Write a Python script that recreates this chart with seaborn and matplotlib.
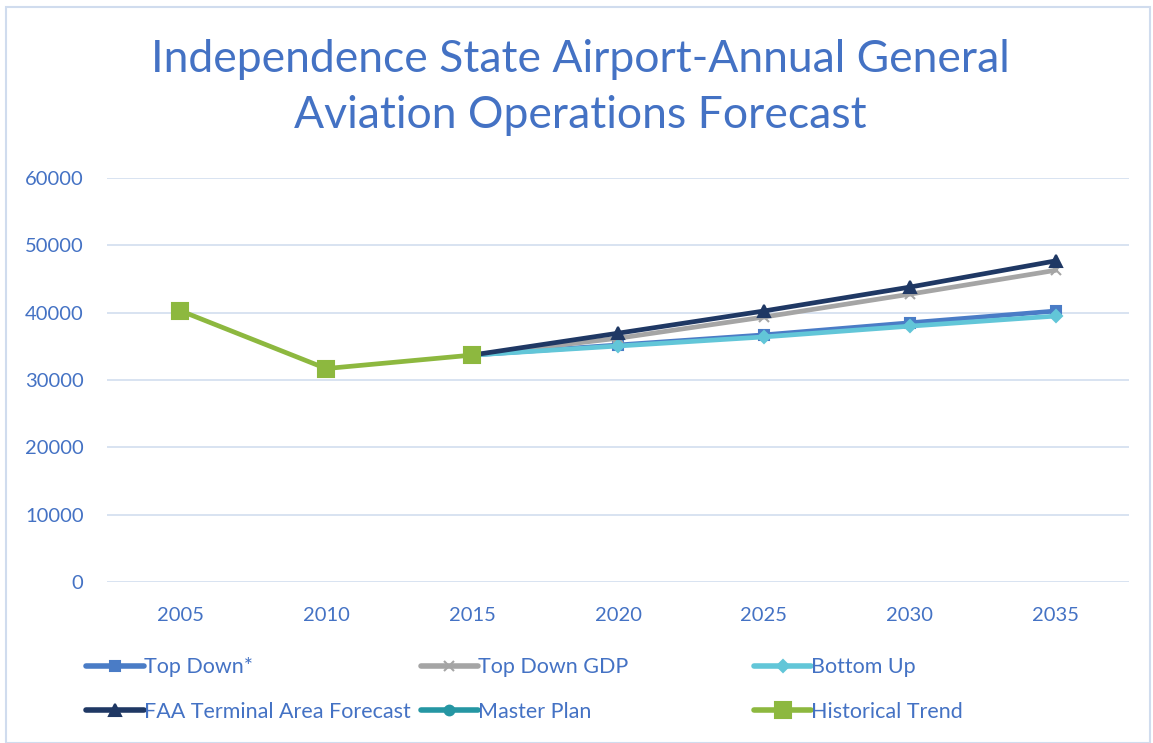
import matplotlib
matplotlib.use("Agg")
import matplotlib.pyplot as plt
import seaborn as sns
from matplotlib.patches import Rectangle

# data
years_hist = ["2005", "2010", "2015"]
historical = [40300, 31700, 33700]

years_fc = ["2015", "2020", "2025", "2030", "2035"]
top_down = [33700, 35200, 36700, 38500, 40250]
top_down_gdp = [33700, 36200, 39350, 42750, 46300]
bottom_up = [33700, 35050, 36400, 38000, 39500]
faa_taf = [33700, 36950, 40250, 43800, 47700]
master_plan_years = ["2015"]
master_plan = [33700]

blue_text = "#4472C4"
grid_col = "#D6E0F0"

sns.set_theme(style="white")
plt.rcParams["font.family"] = ["Lato", "DejaVu Sans"]

fig = plt.figure(figsize=(11.53, 7.43), dpi=100)
ax = fig.add_axes([0.093, 0.2167, 0.886, 0.5437])

series = [
    ("Top Down*", years_fc, top_down, "#4A7CC6", "s", 7),
    ("Top Down GDP", years_fc, top_down_gdp, "#A5A5A5", "x", 7),
    ("Bottom Up", years_fc, bottom_up, "#62C6D8", "D", 6),
    ("FAA Terminal Area Forecast", years_fc, faa_taf, "#1F3864", "^", 8),
    ("Master Plan", master_plan_years, master_plan, "#2596A3", "o", 7),
    ("Historical Trend", years_hist, historical, "#8DB83F", "s", 11),
]

# historical first so the category order on x runs 2005..2035
for name, xs, ys, col, mk, ms in [series[5]] + series[:5]:
    sns.lineplot(x=xs, y=ys, ax=ax, color=col, linewidth=3.4, marker=mk,
                 markersize=ms, markeredgecolor=col, markeredgewidth=1.5,
                 label=name, zorder=3 if name != "Historical Trend" else 4,
                 sort=False)

ax.set_xlim(-0.5, 6.5)
ax.set_ylim(0, 60000)
ax.set_yticks(range(0, 60001, 10000))
ax.grid(axis="y", color=grid_col, linewidth=1.3)
ax.grid(axis="x", visible=False)
for s in ax.spines.values():
    s.set_visible(False)
ax.tick_params(axis="both", colors=blue_text, labelsize=14.5, length=0)
ax.tick_params(axis="y", pad=17)
ax.tick_params(axis="x", pad=18)
ax.set_xlabel("")
ax.set_ylabel("")

hs, ls = ax.get_legend_handles_labels()
lookup = dict(zip(ls, hs))
ax.get_legend().remove()

# Excel-like fixed-width legend columns: one legend per column
columns = [
    (0.075, ["Top Down*", "FAA Terminal Area Forecast"]),
    (0.365, ["Top Down GDP", "Master Plan"]),
    (0.654, ["Bottom Up", "Historical Trend"]),
]
for xpos, names in columns:
    leg = fig.legend([lookup[n] for n in names], names, loc="center left",
                     bbox_to_anchor=(xpos, 0.072), frameon=False,
                     fontsize=15.5, labelcolor=blue_text, handlelength=2.65,
                     handletextpad=0.0, labelspacing=1.12, markerscale=1.0,
                     borderaxespad=0, borderpad=0)
    for ln in leg.get_lines():
        ln.set_linewidth(4)

fig.text(0.503, 0.882,
         "Independence State Airport-Annual General\nAviation Operations Forecast",
         ha="center", va="center", color=blue_text, fontsize=32, linespacing=1.45)

fig.patches.append(Rectangle((0.005, 0.0), 0.992, 0.99, transform=fig.transFigure,
                             fill=False, edgecolor="#D0DCEE", linewidth=1.5))

fig.savefig("out.png", dpi=100)
